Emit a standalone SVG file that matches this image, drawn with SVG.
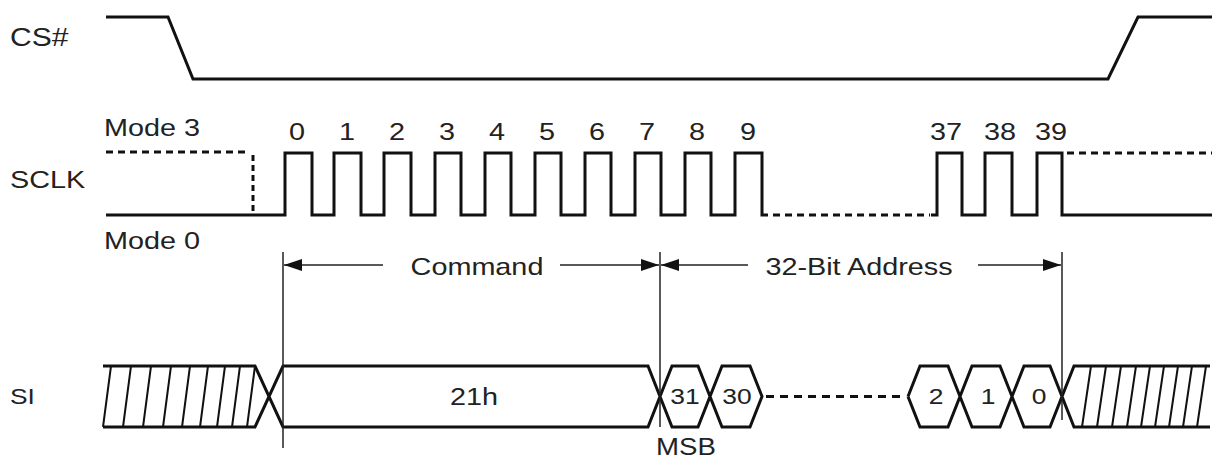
<svg xmlns="http://www.w3.org/2000/svg" width="1215" height="461" viewBox="0 0 1215 461">
<style>
.bg{fill:#fff}
.sig{fill:none;stroke:#111;stroke-width:3;stroke-linejoin:miter}
.dash{fill:none;stroke:#111;stroke-width:3;stroke-dasharray:7 5}
.hatch{fill:none;stroke:#111;stroke-width:2}
.dim{fill:none;stroke:#222;stroke-width:1.5}
.t{font-family:"Liberation Sans",Arial,sans-serif;font-size:24px;fill:#222}
.s{font-size:22px}
.c{text-anchor:middle}
</style>
<defs>
<marker id="ah" markerUnits="userSpaceOnUse" markerWidth="18" markerHeight="12" refX="18" refY="6" orient="auto">
<path d="M0,0 L18,6 L0,12 z" fill="#111"/>
</marker>
</defs>
<rect class="bg" x="0" y="0" width="1215" height="461"/>

<g id="cs">
<text class="t" transform="translate(10,46) scale(1.2,1)" style="font-size:25px">CS#</text>
<path class="sig" d="M106,17 H168 L193,79 H1108 L1138,17 H1212"/>
</g>

<g id="sclk">
<text class="t" transform="translate(10,188) scale(1.2,1)">SCLK</text>
<text class="t" transform="translate(104,136) scale(1.2,1)">Mode 3</text>
<text class="t" transform="translate(104,249) scale(1.2,1)">Mode 0</text>
<path class="dash" d="M106,152 H250"/>
<path class="dash" d="M253,155 V213" style="stroke-dasharray:6 4"/>
<path class="sig" d="M106,215 H285 V153 H312 V215 H334 V153 H361 V215 H384 V153 H411 V215 H435 V153 H461 V215 H485 V153 H511 V215 H535 V153 H561 V215 H585 V153 H611 V215 H635 V153 H661 V215 H685 V153 H711 V215 H735 V153 H762 V215 H768"/>
<path class="dash" d="M773,215 H930"/>
<path class="sig" d="M931,215 H937 V153 H962 V215 H985 V153 H1012 V215 H1037 V153 H1062 V215 H1212"/>
<path class="dash" d="M1067,153 H1212"/>
<g class="t c">
<text transform="translate(297,140) scale(1.2,1)">0</text>
<text transform="translate(347,140) scale(1.2,1)">1</text>
<text transform="translate(397,140) scale(1.2,1)">2</text>
<text transform="translate(447,140) scale(1.2,1)">3</text>
<text transform="translate(497,140) scale(1.2,1)">4</text>
<text transform="translate(547,140) scale(1.2,1)">5</text>
<text transform="translate(597,140) scale(1.2,1)">6</text>
<text transform="translate(647,140) scale(1.2,1)">7</text>
<text transform="translate(697,140) scale(1.2,1)">8</text>
<text transform="translate(748,140) scale(1.2,1)">9</text>
<text transform="translate(946,140) scale(1.2,1)">37</text>
<text transform="translate(1000,140) scale(1.2,1)">38</text>
<text transform="translate(1051,140) scale(1.2,1)">39</text>
</g>
</g>

<g id="si">
<text class="t s" transform="translate(10,404) scale(1.2,1)">SI</text>
<path class="sig" d="M103,366 H255 L283,427 H648 L672,366 H698 L722,427 H750 L762,396.5 L750,366 H722 L698,427 H672 L648,366 H283 L255,427 H103"/>
<path class="hatch" d="M103,427 L111,366 M123,427 L131,366 M143,427 L151,366 M163,427 L171,366 M182,427 L190,366 M200,427 L208,366 M217,427 L225,366 M232,427 L240,366 M247,427 L255,366"/>
<path class="dash" d="M766,396.5 H905" style="stroke-dasharray:8 6"/>
<path class="sig" d="M908,396.5 L920,366 H948 L972,427 H1000 L1024,366 H1050 L1074,427 H1210 M908,396.5 L920,427 H948 L972,366 H1000 L1024,427 H1050 L1074,366 H1210"/>
<path class="hatch" d="M1082,427 L1091,366 M1097,427 L1106,366 M1112,427 L1121,366 M1127,427 L1136,366 M1141,427 L1150,366 M1155,427 L1164,366 M1169,427 L1178,366 M1183,427 L1192,366 M1197,427 L1206,366"/>
<text class="t c" transform="translate(474,405) scale(1.2,1)">21h</text>
<g class="t s c">
<text transform="translate(685,404) scale(1.2,1)">31</text>
<text transform="translate(737,404) scale(1.2,1)">30</text>
<text transform="translate(936,404) scale(1.2,1)">2</text>
<text transform="translate(988,404) scale(1.2,1)">1</text>
<text transform="translate(1039,404) scale(1.2,1)">0</text>
</g>
<text class="t c" transform="translate(686,455) scale(1.2,1)" style="font-size:23px">MSB</text>
</g>

<g id="connectors">
<path class="dim" d="M283,252 V448"/>
<path class="dim" d="M660,252 V427"/>
<path class="dim" d="M1062,252 V420"/>
<path class="dim" d="M383,265 H284" marker-end="url(#ah)"/>
<path class="dim" d="M560,265 H659" marker-end="url(#ah)"/>
<path class="dim" d="M748,265 H661" marker-end="url(#ah)"/>
<path class="dim" d="M978,265 H1061" marker-end="url(#ah)"/>
<text class="t c" transform="translate(477,275) scale(1.2,1)">Command</text>
<text class="t c" transform="translate(859,275) scale(1.2,1)">32-Bit Address</text>
</g>
</svg>
